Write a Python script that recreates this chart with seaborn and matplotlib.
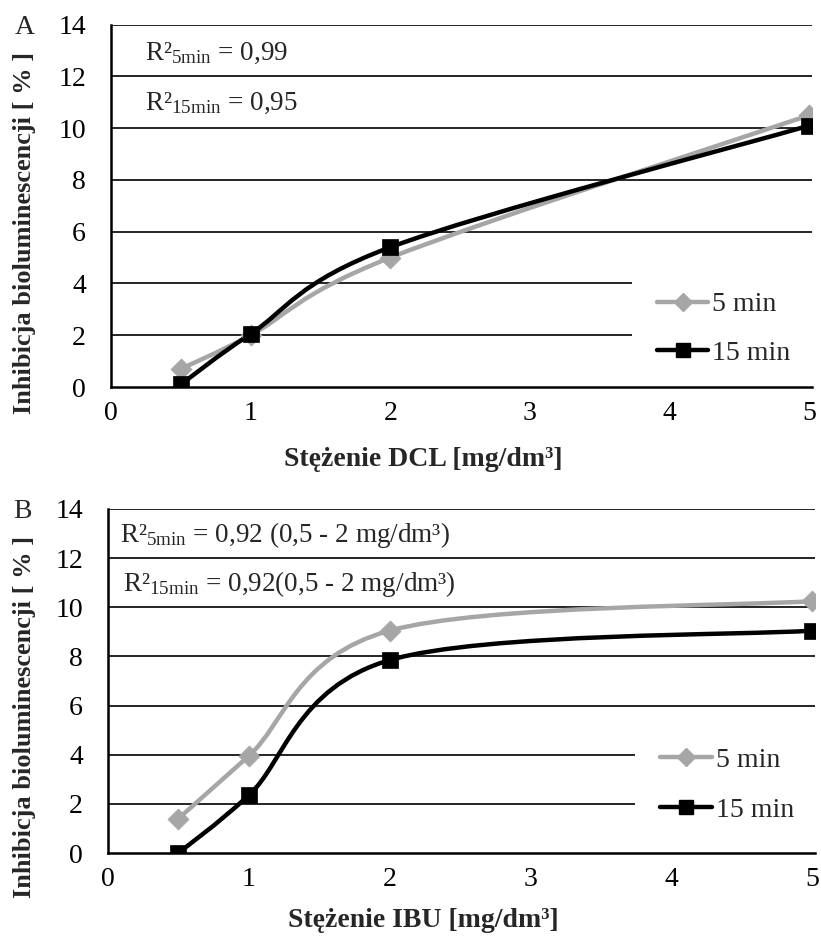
import numpy as np
import pandas as pd
import matplotlib
matplotlib.use("Agg")
import matplotlib.pyplot as plt
import seaborn as sns
from matplotlib.path import Path
from matplotlib.patches import PathPatch
from matplotlib.lines import Line2D

# ---- data ----
conc = [0.5, 1, 2, 5]
dcl_5min = [0.7, 2.0, 5.0, 10.5]
dcl_15min = [0.1, 2.05, 5.4, 10.1]
ibu_5min = [1.4, 3.95, 9.05, 10.25]
ibu_15min = [0.0, 2.35, 7.85, 9.05]
series_names = ["5 min", "15 min"]
x_ticks = [0, 1, 2, 3, 4, 5]
y_ticks = [0, 2, 4, 6, 8, 10, 12, 14]

sns.set_theme(style="white")
plt.rcParams["font.family"] = ["Liberation Serif", "DejaVu Serif"]
plt.rcParams["mathtext.fontset"] = "custom"
plt.rcParams["mathtext.rm"] = "Liberation Serif"
plt.rcParams["mathtext.it"] = "Liberation Serif:italic"
plt.rcParams["mathtext.bf"] = "Liberation Serif:bold"

GRAY = "#A6A6A6"
BLACK = "#000000"
colors = {"5 min": GRAY, "15 min": BLACK}
markers = {"5 min": "D", "15 min": "s"}

FS = 20

fig = plt.figure(figsize=(8.21, 9.38), dpi=100)
axA = fig.add_axes([0.1352, 0.5874, 0.989 - 0.1352, 0.9737 - 0.5874])
axB = fig.add_axes([0.1315, 0.0906, 0.9927 - 0.1315, 0.4574 - 0.0906])


def smooth_path(xs, ys):
    pts = np.column_stack([xs, ys]).astype(float)
    n = len(pts)
    verts = [pts[0]]
    codes = [Path.MOVETO]
    for i in range(n - 1):
        p0 = pts[i - 1] if i > 0 else pts[i]
        p1 = pts[i]
        p2 = pts[i + 1]
        p3 = pts[i + 2] if i + 2 < n else pts[i + 1]
        c1 = p1 + (p2 - p0) / 6.0
        c2 = p2 - (p3 - p1) / 6.0
        verts += [c1, c2, p2]
        codes += [Path.CURVE4] * 3
    return Path(verts, codes)


def panel(ax, s5, s15, r2a, r2b, r2pos, leg_bbox, spacing):
    df = pd.DataFrame({
        "conc": conc * 2,
        "inh": list(s5) + list(s15),
        "time": ["5 min"] * len(conc) + ["15 min"] * len(conc),
    })
    for name, vals in zip(series_names, [s5, s15]):
        patch = PathPatch(smooth_path(conc, vals), fill=False,
                          edgecolor=colors[name], lw=3.2, zorder=3,
                          capstyle="round", joinstyle="round")
        ax.add_patch(patch)
        sub = df[df["time"] == name]
        sns.scatterplot(data=sub, x="conc", y="inh", ax=ax,
                        color=colors[name], marker=markers[name],
                        s=130 if name == "15 min" else 115,
                        edgecolor=colors[name], linewidth=0.5,
                        zorder=4, legend=False)
    ax.set_xlim(0, 5.02)
    ax.set_ylim(0, 14)
    ax.set_xticks(x_ticks)
    ax.set_yticks(y_ticks)
    ax.set_xticklabels([str(t) for t in x_ticks], fontsize=FS)
    ax.set_yticklabels([str(t) for t in y_ticks], fontsize=FS)
    ax.tick_params(axis="both", length=0, colors="black")
    ax.tick_params(axis="x", pad=10)
    ax.tick_params(axis="y", pad=18)
    ax.set_xlabel("")
    ax.set_ylabel("")
    for y in y_ticks[1:]:
        ax.axhline(y, color="black", lw=1.2, zorder=1)
    for sp in ["top", "right"]:
        ax.spines[sp].set_visible(False)
    for sp in ["left", "bottom"]:
        ax.spines[sp].set_color("black")
        ax.spines[sp].set_linewidth(1.8)
    ax.set_facecolor("white")

    for (tx, ty), txt in zip(r2pos, [r2a, r2b]):
        ax.text(tx, ty, txt, fontsize=19.5, va="center", ha="left",
                transform=ax.transData, zorder=5)

    handles = [Line2D([0], [0], color=colors[n], lw=3.2, marker=markers[n],
                      markersize=9 if n == "5 min" else 10,
                      markeredgecolor=colors[n]) for n in series_names]
    leg = ax.legend(handles, series_names, loc="lower left",
                    bbox_to_anchor=leg_bbox, mode="expand", fontsize=FS,
                    frameon=True, framealpha=1, facecolor="white",
                    edgecolor="none", handlelength=1.85, handletextpad=0.15,
                    labelspacing=spacing, borderpad=0.9, borderaxespad=0,
                    fancybox=False)
    leg.set_zorder(2)


panel(axA, dcl_5min, dcl_15min,
      "R²$_{\\mathrm{5min}}$ = 0,99", "R²$_{\\mathrm{15min}}$ = 0,95",
      [(0.245, 12.9), (0.245, 10.95)], (0.743, -0.010, 0.257, 0.28), 0.82)
panel(axB, ibu_5min, ibu_15min,
      "R²$_{\\mathrm{5min}}$ = 0,92 (0,5 - 2 mg/dm³)",
      "R²$_{\\mathrm{15min}}$ = 0,92(0,5 - 2 mg/dm³)",
      [(0.085, 12.95), (0.105, 10.95)], (0.746, 0.016, 0.254, 0.28), 0.88)

W, H = 821.0, 938.0
fig.text(25 / W, 1 - 27 / H, "A", fontsize=FS, ha="center", va="center")
fig.text(22 / W, 1 - 511 / H, "B", fontsize=FS, ha="center", va="center")
fig.text(423 / W, 1 - 460 / H, "Stężenie DCL [mg/dm³]", fontsize=FS,
         fontweight="bold", ha="center", va="center")
fig.text(423 / W, 1 - 920 / H, "Stężenie IBU [mg/dm³]", fontsize=FS,
         fontweight="bold", ha="center", va="center")
fig.text(25 / W, 1 - 233 / H, "Inhibicja bioluminescencji [ % ]",
         fontsize=19, fontweight="bold", ha="center", va="center",
         rotation=90)
fig.text(25 / W, 1 - 717 / H, "Inhibicja bioluminescencji [ % ]",
         fontsize=19, fontweight="bold", ha="center", va="center",
         rotation=90)

fig.savefig("out.png", dpi=100, facecolor="white")
